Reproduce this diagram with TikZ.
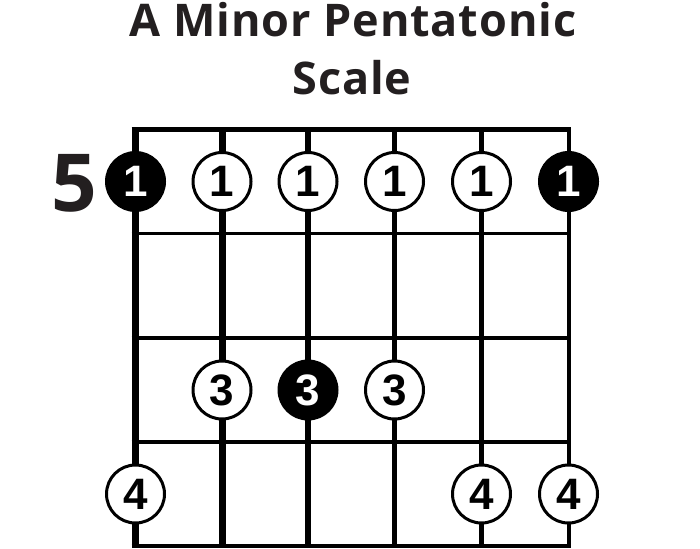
\documentclass[tikz,border=0pt]{standalone}
\usepackage{fontspec}
\setmainfont{Liberation Sans}
\newfontfamily\titlefont{Open Sans}[LetterSpace=2]
\usetikzlibrary{positioning}
\definecolor{tinta}{HTML}{231F20}

\begin{document}
\begin{tikzpicture}[x=1pt,y=-1pt,
  traste/.style={line width=3.5pt},
  nota/.style={circle,draw=black,line width=3pt,fill=white,minimum size=58pt,inner sep=0pt,
    font=\fontsize{44}{44}\selectfont\bfseries},
  raiz/.style={nota,fill=black,text=white}]
\useasboundingbox (0,0) rectangle (700,548);

  % titulo
  \node[anchor=base,text=tinta,font=\titlefont\bfseries\fontsize{45}{45}\selectfont] (tit) at (353,37) {A Minor Pentatonic};
  \node[anchor=base,text=tinta,font=\titlefont\bfseries\fontsize{45}{45}\selectfont] (esc) at (352,95) {Scale};
  \node[text=tinta,font=\titlefont\bfseries\fontsize{80}{80}\selectfont] (num) at (74.5,183) {5};

  % trastes
  \draw[line width=4.5pt] (131.7,129.5) -- (570.5,129.5);
  \draw[traste] (131.7,233.5) -- (570.5,233.5);
  \draw[traste] (131.7,338) -- (570.5,338);
  \draw[traste] (131.7,442) -- (570.5,442);
  \draw[line width=4pt] (131.7,546) -- (570.5,546);

  % cuerdas
  \draw[line width=7.5pt] (135.5,127.3) -- (135.5,548);
  \draw[line width=7pt] (222,127.3) -- (222,548);
  \draw[line width=6pt] (308,127.3) -- (308,548);
  \draw[line width=5pt] (394.5,127.3) -- (394.5,548);
  \draw[line width=4.5pt] (481.5,127.3) -- (481.5,548);
  \draw[line width=4pt] (568.5,127.3) -- (568.5,548);

  % notas
  \node[raiz] (e1) at (135.5,181.5) {1};
  \node[nota] (a1) at (222,181.5) {1};
  \node[nota] (d1) at (308,181.5) {1};
  \node[nota] (g1) at (394.5,181.5) {1};
  \node[nota] (b1) at (481.5,181.5) {1};
  \node[raiz] (ee1) at (568.5,181.5) {1};
  \node[nota] (a3) at (222,390) {3};
  \node[raiz] (d3) at (308,390) {3};
  \node[nota] (g3) at (394.5,390) {3};
  \node[nota] (e4) at (135.5,494) {4};
  \node[nota] (b4) at (481.5,494) {4};
  \node[nota] (ee4) at (568.5,494) {4};

\end{tikzpicture}
\end{document}
